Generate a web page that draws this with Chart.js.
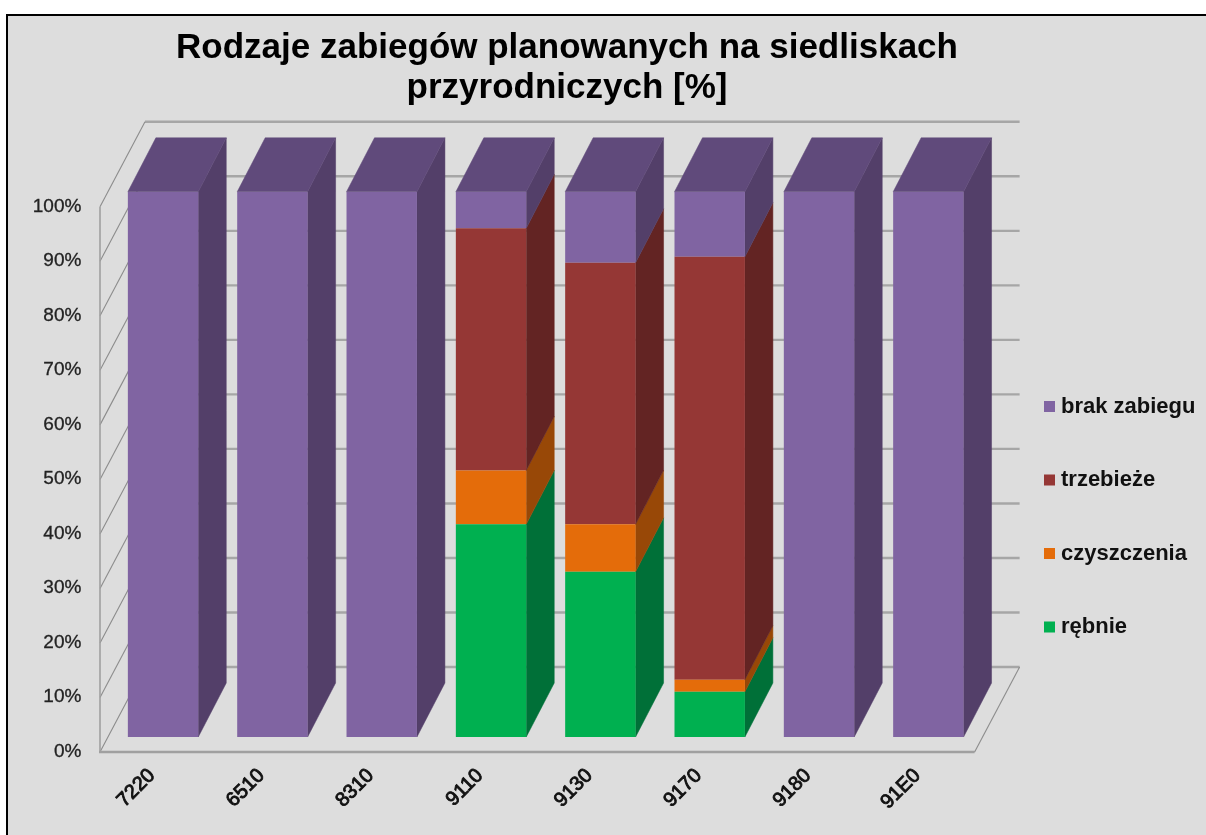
<!DOCTYPE html>
<html lang="pl">
<head>
<meta charset="utf-8">
<title>Rodzaje zabiegów</title>
<script src="https://cdn.jsdelivr.net/npm/chart.js@4/dist/chart.umd.min.js"></script>
<style>
html,body{margin:0;padding:0;background:#fff;overflow:hidden}
canvas{display:block;filter:blur(0.55px)}
</style>
</head>
<body>
<canvas id="c" width="1206" height="835"></canvas>
<script>
const categories = ['7220','6510','8310','9110','9130','9170','9180','91E0'];
const rebnie      = [0,0,0,39,30.3,8.3,0,0];
const czyszczenia = [0,0,0,9.9,8.7,2.2,0,0];
const trzebieze   = [0,0,0,44.4,48,77.6,0,0];
const brakZabiegu = [100,100,100,6.7,13,11.9,100,100];
const yTickStep = 10;
const titleLines = ['Rodzaje zabiegów planowanych na siedliskach','przyrodniczych [%]'];

const palette = [
  {front:'#00B050', side:'#007038', top:'#008A3E', label:'rębnie', data:rebnie},
  {front:'#E46C0A', side:'#984807', top:'#B5560A', label:'czyszczenia', data:czyszczenia},
  {front:'#953735', side:'#632423', top:'#772C2A', label:'trzebieże', data:trzebieze},
  {front:'#8064A2', side:'#533F69', top:'#604A7B', label:'brak zabiegu', data:brakZabiegu}
];

const DX = 28, DY = -54;          // bar depth
const WALL = {fx:-8.4, fy:15, bx:36.6, by:-70}; // wall offsets from scale pixels

const scene = {
  id:'scene',
  beforeDraw(chart){
    const {ctx,width,height} = chart;
    ctx.save();
    ctx.fillStyle='#fff'; ctx.fillRect(0,0,width,height);
    ctx.fillStyle='#000'; ctx.fillRect(6,14,width-6,height-14);
    ctx.fillStyle='#DDDDDD'; ctx.fillRect(8,16,width-8,height-16);
    ctx.restore();
  },
  afterLayout(chart){
    const t = chart.titleBlock;
    t.left = 0; t.right = 1134;
    const l = chart.legend;
    l.left = 997.5; l.right = 1206; l.top = 344; l.bottom = 835;
  },
  beforeDatasetsDraw(chart){
    const {ctx,chartArea:a,scales:{y}} = chart;
    const fl=a.left+WALL.fx, fr=a.right+WALL.fx, bl=a.left+WALL.bx, br=a.right+WALL.bx;
    ctx.save();
    const line=(x1,y1,x2,y2,w,c)=>{ctx.beginPath();ctx.moveTo(x1,y1);ctx.lineTo(x2,y2);ctx.lineWidth=w;ctx.strokeStyle=c;ctx.stroke();};
    for(let v=0;v<=100;v+=yTickStep){
      const p=y.getPixelForValue(v);
      line(bl,p+WALL.by,br,p+WALL.by,2.4,'#A6A6A6');
      line(fl,p+WALL.fy,bl,p+WALL.by,1.1,'#8C8C8C');
    }
    const p0=y.getPixelForValue(0), p100=y.getPixelForValue(100);
    line(fl,p100+WALL.fy,fl,p0+WALL.fy,1.6,'#A0A0A0');
    line(fl-1,p0+WALL.fy,fr,p0+WALL.fy,2.4,'#A0A0A0');
    line(fr,p0+WALL.fy,br,p0+WALL.by,1.1,'#8C8C8C');
    chart.data.datasets.forEach((ds,di)=>{
      const meta=chart.getDatasetMeta(di), style=palette[di];
      meta.data.forEach((bar,i)=>{
        if(!ds.data[i]) return;
        const r=bar.x+bar.width/2, l=bar.x-bar.width/2;
        ctx.fillStyle=style.side; ctx.strokeStyle=style.side; ctx.lineWidth=.5;
        ctx.beginPath();
        ctx.moveTo(r,bar.y);ctx.lineTo(r+DX,bar.y+DY);ctx.lineTo(r+DX,bar.base+DY);ctx.lineTo(r,bar.base);
        ctx.closePath();ctx.fill();ctx.stroke();
        if(di===chart.data.datasets.length-1){
          ctx.fillStyle=style.top; ctx.strokeStyle=style.top;
          ctx.beginPath();
          ctx.moveTo(l,bar.y);ctx.lineTo(l+DX,bar.y+DY);ctx.lineTo(r+DX,bar.y+DY);ctx.lineTo(r,bar.y);
          ctx.closePath();ctx.fill();ctx.stroke();
        }
      });
    });
    ctx.restore();
  }
};

new Chart(document.getElementById('c'),{
  type:'bar',
  data:{
    labels:categories,
    datasets:palette.map(s=>({label:s.label,data:s.data,backgroundColor:s.front,borderWidth:0,categoryPercentage:1,barPercentage:0.644}))
  },
  plugins:[scene],
  options:{
    responsive:false,
    animation:false,
    events:[],
    layout:{padding:{right:15}},
    plugins:{
      tooltip:{enabled:false},
      title:{
        display:true,
        text:titleLines,
        color:'#000',
        font:{family:'"Liberation Sans"',size:35,weight:'bold',lineHeight:1.14},
        padding:{top:28,bottom:84}
      },
      legend:{
        position:'right',
        align:'start',
        reverse:true,
        labels:{
          color:'#111',
          boxWidth:1,boxHeight:1,
          padding:51.5,
          font:{family:'"Liberation Sans"',size:22,weight:'bold'},
          generateLabels(chart){
            return Chart.defaults.plugins.legend.labels.generateLabels(chart).map(it=>({
              ...it,lineWidth:10,strokeStyle:it.fillStyle
            }));
          }
        }
      }
    },
    scales:{
      x:{
        stacked:true,
        offset:true,
        grid:{display:false,drawTicks:false},
        border:{display:false},
        afterFit(s){s.height=98;},
        ticks:{
          color:'#111',
          maxRotation:45,minRotation:45,autoSkip:false,
          padding:27,
          labelOffset:-11,
          textStrokeColor:'#111',textStrokeWidth:0.9,
          font:{family:'"Liberation Sans"',size:20,weight:'normal'}
        }
      },
      y:{
        stacked:true,
        min:0,max:100,
        grid:{display:false,drawTicks:false},
        border:{display:false},
        afterFit(s){s.width=108.4;},
        ticks:{
          stepSize:yTickStep,
          color:'#222',
          padding:27,
          labelOffset:14.5,
          textStrokeColor:'#222',textStrokeWidth:0.3,
          callback:v=>v+'%',
          font:{family:'"Liberation Sans"',size:19}
        }
      }
    }
  }
});
</script>
</body>
</html>
